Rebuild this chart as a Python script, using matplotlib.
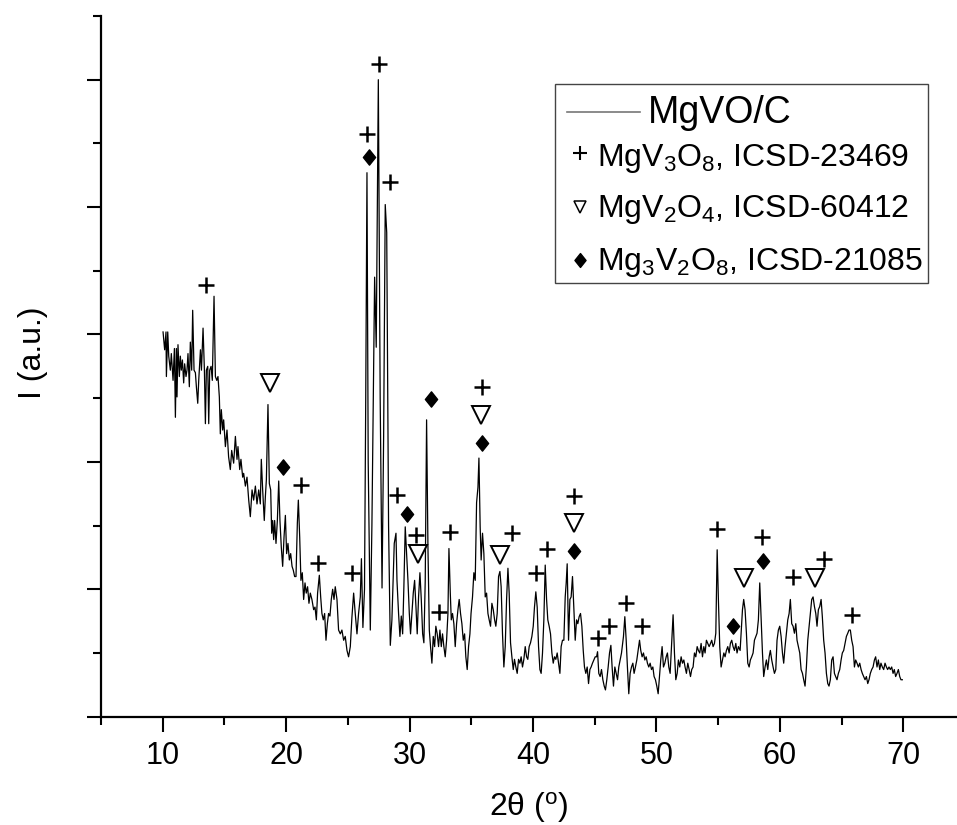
import numpy as np
import matplotlib
matplotlib.use("Agg")
import matplotlib.pyplot as plt
from matplotlib.path import Path
from matplotlib.patches import Rectangle

plt.rcParams['font.family'] = ['Liberation Sans', 'DejaVu Sans']
plt.rcParams['mathtext.fontset'] = 'custom'
plt.rcParams['mathtext.rm'] = 'Liberation Sans'
plt.rcParams['mathtext.it'] = 'Liberation Sans:italic'

# patron XRD de MgVO/C (2theta en grados, intensidad en u.a.)
two_theta = [
    10.03, 10.16, 10.27, 10.30, 10.41, 10.49, 10.62, 10.70, 10.84, 10.95, 11.03, 11.11, 11.16, 11.24,
    11.35, 11.43, 11.51, 11.60, 11.70, 11.78, 11.89, 11.97, 12.05, 12.16, 12.24, 12.35, 12.43, 12.54,
    12.65, 12.73, 12.84, 12.92, 13.06, 13.14, 13.27, 13.38, 13.46, 13.54, 13.65, 13.73, 13.81, 13.92,
    14.02, 14.16, 14.27, 14.38, 14.48, 14.59, 14.67, 14.75, 14.86, 14.94, 15.08, 15.21, 15.34, 15.48,
    15.59, 15.75, 15.89, 16.02, 16.10, 16.24, 16.34, 16.48, 16.56, 16.70, 16.83, 16.97, 17.10, 17.24,
    17.37, 17.51, 17.64, 17.78, 17.91,
    17.99, 18.10, 18.23, 18.32, 18.40, 18.53, 18.64, 18.75, 18.83, 18.91, 18.99, 19.07, 19.18, 19.29,
    19.40, 19.50, 19.61, 19.72, 19.83, 19.94, 20.04, 20.15, 20.26, 20.37, 20.48, 20.58, 20.69, 20.80,
    20.91, 20.99, 21.10, 21.20, 21.31, 21.42, 21.53, 21.63, 21.74, 21.85, 21.96, 22.09, 22.23, 22.34,
    22.45, 22.55, 22.69, 22.80, 22.90, 23.01, 23.12, 23.23, 23.34, 23.44, 23.55, 23.66, 23.77, 23.88,
    23.98, 24.12, 24.25, 24.39, 24.52, 24.66, 24.79, 24.93, 25.06, 25.20, 25.33, 25.47, 25.60, 25.74,
    25.87, 26.01, 26.10, 26.22, 26.35, 26.45, 26.55, 26.65, 26.82, 26.95, 27.17, 27.30, 27.47, 27.62,
    27.77, 27.90, 28.03, 28.15, 28.30, 28.44, 28.57, 28.76,
    28.90, 28.98, 29.11, 29.22, 29.33, 29.44, 29.54, 29.65, 29.76, 29.87, 29.98, 30.08, 30.19, 30.30,
    30.41, 30.52, 30.62, 30.73, 30.84, 30.95, 31.06, 31.16, 31.27, 31.38, 31.49, 31.60, 31.70, 31.81,
    31.92, 32.03, 32.13, 32.24, 32.35, 32.46, 32.57, 32.67, 32.78, 32.89, 33.00, 33.11, 33.19, 33.30,
    33.38, 33.48, 33.59, 33.70, 33.81, 33.92, 34.02, 34.13, 34.24, 34.35, 34.46, 34.56, 34.67, 34.78,
    34.89, 34.98, 35.10, 35.21, 35.32, 35.43, 35.54, 35.62, 35.72, 35.80, 35.91, 36.02, 36.13, 36.24,
    36.35, 36.45, 36.56, 36.67, 36.78, 36.89, 36.99, 37.10, 37.21, 37.32, 37.42, 37.53, 37.64, 37.75,
    37.86, 37.97, 38.07, 38.18, 38.29, 38.40, 38.50, 38.61, 38.72, 38.83, 38.94, 39.04, 39.15, 39.26,
    39.37, 39.48, 39.58, 39.69, 39.80, 39.91, 40.02, 40.12, 40.23, 40.34, 40.45, 40.56, 40.66, 40.77,
    40.88, 40.99, 41.10, 41.20, 41.31, 41.42, 41.53, 41.64, 41.74, 41.85, 41.96, 42.07,
    42.18, 42.28, 42.39, 42.50, 42.61, 42.69, 42.77, 42.88, 42.99, 43.09, 43.20, 43.31, 43.42, 43.53,
    43.63, 43.74, 43.85, 43.96, 44.07, 44.17, 44.28, 44.39, 44.50, 44.61, 44.71, 44.82, 44.93, 45.04,
    45.15, 45.23, 45.33, 45.44, 45.55, 45.66, 45.77, 45.87, 45.98, 46.09, 46.20, 46.31, 46.41, 46.52,
    46.63, 46.74, 46.85, 46.95, 47.06, 47.17, 47.33, 47.44, 47.55, 47.65, 47.76, 47.87, 47.98, 48.09,
    48.19, 48.30, 48.41, 48.52, 48.63, 48.73, 48.84, 48.95, 49.06, 49.17, 49.27, 49.38, 49.49, 49.60,
    49.71, 49.81, 49.92, 50.03, 50.14, 50.25, 50.35, 50.46, 50.57, 50.68, 50.79, 50.89, 51.00, 51.11,
    51.22, 51.35, 51.46, 51.57, 51.68, 51.78, 51.89, 52.00, 52.11, 52.22, 52.32, 52.43, 52.54, 52.65,
    52.76, 52.86, 52.97, 53.08, 53.19, 53.30, 53.40, 53.51, 53.62, 53.73, 53.84, 53.94, 54.05, 54.16,
    54.27, 54.38, 54.48, 54.59, 54.70, 54.81, 54.92, 55.02, 55.13, 55.24, 55.35, 55.46, 55.56, 55.67,
    55.78, 55.89, 55.99, 56.10, 56.21, 56.32, 56.43, 56.53, 56.64, 56.78,
    56.86, 56.97, 57.07, 57.18, 57.29, 57.40, 57.51, 57.61, 57.72, 57.83, 57.94, 58.05, 58.15, 58.26,
    58.37, 58.48, 58.59, 58.69, 58.80, 58.91, 59.02, 59.13, 59.23, 59.34, 59.45, 59.56, 59.67, 59.77,
    59.88, 59.99, 60.10, 60.21, 60.31, 60.42, 60.53, 60.64, 60.75, 60.85, 60.96, 61.07, 61.18, 61.29,
    61.39, 61.50, 61.61, 61.72, 61.83, 61.93, 62.04, 62.15, 62.26, 62.37, 62.47, 62.58, 62.69, 62.80,
    62.91, 63.01, 63.12, 63.23, 63.34, 63.44, 63.55, 63.66, 63.77, 63.88, 63.98, 64.09, 64.20, 64.31,
    64.42, 64.52, 64.63, 64.74, 64.85, 64.96, 65.06, 65.17, 65.28, 65.39, 65.50, 65.60, 65.71, 65.82,
    65.93, 66.04, 66.14, 66.25, 66.36, 66.47, 66.58, 66.68, 66.79, 66.90, 67.01, 67.12, 67.22, 67.33,
    67.44, 67.55, 67.66, 67.76, 67.87, 67.98, 68.09, 68.19, 68.30, 68.41, 68.52, 68.63, 68.73, 68.84,
    68.95, 69.06, 69.17, 69.27, 69.38, 69.49, 69.60, 69.71, 69.81, 69.92,
]
intensity = [
    3.02, 2.88, 3.02, 2.67, 3.02, 2.83, 2.72, 2.85, 2.64, 2.89, 2.35, 2.89, 2.51, 2.92,
    2.67, 2.83, 2.72, 2.80, 2.62, 2.77, 2.67, 2.72, 2.85, 2.59, 2.94, 2.72, 3.19, 2.72,
    2.70, 2.59, 2.46, 2.64, 2.88, 2.72, 3.05, 2.72, 2.30, 2.72, 2.75, 2.30, 2.72, 2.75,
    2.64, 3.30, 2.67, 2.64, 2.67, 2.51, 2.22, 2.41, 2.25, 2.33, 2.12, 2.25, 2.04, 1.94,
    2.09, 1.99, 2.20, 2.02, 2.12, 1.94, 2.02, 1.88, 1.91, 1.81, 1.88, 1.70, 1.57, 1.78,
    1.70, 1.81, 1.67, 1.78, 1.67,
    2.02, 1.78, 1.54, 1.73, 1.86, 2.45, 1.83, 1.78, 1.44, 1.54, 1.39, 1.54, 1.36, 1.54,
    1.85, 1.54, 1.33, 1.18, 1.41, 1.58, 1.28, 1.36, 1.23, 1.28, 1.18, 1.15, 1.10, 1.10,
    1.52, 1.70, 1.41, 1.07, 1.13, 0.92, 1.05, 0.97, 1.02, 0.89, 0.97, 0.92, 0.84, 0.86,
    0.76, 0.97, 1.11, 0.94, 0.81, 0.76, 0.81, 0.60, 0.73, 0.81, 0.79, 0.92, 1.00, 0.92,
    1.02, 0.92, 0.68, 0.65, 0.68, 0.60, 0.63, 0.52, 0.47, 0.55, 0.78, 0.97, 0.81, 0.65,
    0.81, 0.94, 1.24, 0.70, 1.00, 2.50, 4.27, 2.00, 0.68, 1.50, 3.45, 2.90, 5.00, 2.50,
    1.01, 2.20, 4.02, 3.80, 1.50, 0.56, 0.76, 1.36,
    1.44, 1.07, 0.81, 0.63, 0.79, 0.65, 1.02, 1.49, 1.28, 1.07, 0.81, 0.65, 0.81, 0.97,
    1.07, 0.86, 0.65, 0.94, 1.13, 0.92, 0.65, 0.58, 1.07, 2.33, 1.33, 0.68, 0.55, 0.42,
    0.63, 0.55, 0.71, 0.65, 0.55, 0.68, 0.55, 0.65, 0.55, 0.47, 0.60, 0.81, 1.32, 0.97,
    0.76, 0.81, 0.73, 0.55, 0.73, 0.84, 0.92, 0.81, 0.73, 0.60, 0.65, 0.47, 0.37, 0.55,
    0.65, 0.81, 0.94, 1.13, 1.07, 1.68, 1.80, 2.03, 1.49, 1.23, 1.44, 1.28, 0.94, 0.97,
    0.81, 0.76, 0.71, 0.89, 0.84, 0.76, 0.71, 0.81, 1.10, 1.14, 1.02, 0.65, 0.39, 0.55,
    0.92, 1.165, 0.97, 0.58, 0.47, 0.37, 0.45, 0.39, 0.34, 0.45, 0.42, 0.47, 0.39, 0.45,
    0.55, 0.47, 0.45, 0.55, 0.58, 0.63, 0.71, 0.86, 0.98, 0.86, 0.55, 0.37, 0.34, 0.50,
    0.76, 1.19, 0.92, 0.76, 0.71, 0.65, 0.50, 0.42, 0.47, 0.45, 0.50, 0.42,
    0.34, 0.55, 0.60, 0.60, 0.94, 1.05, 1.20, 0.60, 0.92, 0.94, 1.10, 0.84, 0.60, 0.76,
    0.73, 0.785, 0.81, 0.71, 0.52, 0.39, 0.34, 0.39, 0.26, 0.37, 0.39, 0.42, 0.445, 0.47,
    0.47, 0.51, 0.34, 0.315, 0.37, 0.29, 0.24, 0.21, 0.29, 0.39, 0.50, 0.56, 0.39, 0.24,
    0.39, 0.34, 0.29, 0.39, 0.445, 0.50, 0.63, 0.785, 0.60, 0.39, 0.18, 0.34, 0.39, 0.42,
    0.34, 0.39, 0.445, 0.52, 0.60, 0.52, 0.47, 0.50, 0.445, 0.47, 0.42, 0.39, 0.42, 0.37,
    0.39, 0.315, 0.29, 0.24, 0.18, 0.315, 0.445, 0.55, 0.39, 0.42, 0.47, 0.50, 0.39, 0.34,
    0.55, 0.80, 0.50, 0.29, 0.34, 0.445, 0.39, 0.47, 0.42, 0.445, 0.39, 0.34, 0.42, 0.37,
    0.315, 0.37, 0.39, 0.50, 0.47, 0.55, 0.52, 0.50, 0.575, 0.47, 0.55, 0.50, 0.60, 0.575,
    0.55, 0.575, 0.60, 0.55, 0.575, 0.655, 1.31, 0.92, 0.55, 0.39, 0.445, 0.50, 0.47, 0.52,
    0.55, 0.50, 0.575, 0.60, 0.55, 0.52, 0.575, 0.50, 0.55, 0.52,
    0.655, 0.84, 0.92, 0.84, 0.655, 0.42, 0.39, 0.445, 0.47, 0.50, 0.60, 0.63, 0.655, 0.76,
    1.05, 0.785, 0.50, 0.315, 0.39, 0.445, 0.37, 0.47, 0.52, 0.445, 0.39, 0.34, 0.37, 0.60,
    0.68, 0.71, 0.63, 0.50, 0.42, 0.55, 0.655, 0.76, 0.81, 0.92, 0.73, 0.71, 0.655, 0.73,
    0.60, 0.55, 0.50, 0.37, 0.34, 0.29, 0.24, 0.39, 0.60, 0.71, 0.81, 0.92, 0.94, 0.865,
    0.81, 0.71, 0.84, 0.865, 0.92, 0.785, 0.60, 0.50, 0.34, 0.26, 0.24, 0.29, 0.445, 0.47,
    0.34, 0.315, 0.29, 0.34, 0.37, 0.445, 0.50, 0.52, 0.575, 0.63, 0.655, 0.68, 0.68, 0.60,
    0.55, 0.39, 0.445, 0.42, 0.39, 0.42, 0.37, 0.34, 0.315, 0.29, 0.315, 0.26, 0.29, 0.34,
    0.37, 0.39, 0.445, 0.47, 0.39, 0.445, 0.37, 0.42, 0.39, 0.37, 0.42, 0.39, 0.37, 0.39,
    0.37, 0.39, 0.34, 0.37, 0.315, 0.34, 0.37, 0.315, 0.29, 0.29,
]

# posiciones de los simbolos de cada fase (2theta, altura)
mgv3o8_x = [13.47, 21.23, 22.58, 25.34, 26.55, 27.49, 28.38, 28.98, 30.54, 32.35, 33.24, 35.86, 38.29,
            40.26, 41.17, 43.34, 45.25, 46.19, 47.55, 48.82, 54.89, 58.53, 61.09, 63.58, 65.87]
mgv3o8_y = [3.39, 1.82, 1.21, 1.13, 4.57, 5.12, 4.20, 1.74, 1.43, 0.82, 1.45, 2.59, 1.44,
            1.13, 1.32, 1.73, 0.62, 0.71, 0.89, 0.71, 1.47, 1.41, 1.10, 1.24, 0.80]
mgv2o4_x = [18.72, 30.65, 35.81, 37.29, 43.36, 57.10, 62.85]
mgv2o4_y = [2.62, 1.28, 2.37, 1.27, 1.52, 1.09, 1.09]
mg3v2o8_x = [19.72, 26.68, 29.79, 31.76, 35.86, 43.36, 56.24, 58.65]
mg3v2o8_y = [1.96, 4.39, 1.59, 2.49, 2.15, 1.30, 0.71, 1.22]

etiquetas = ['MgVO/C',
             'MgV$_3$O$_8$, ICSD-23469',
             'MgV$_2$O$_4$, ICSD-60412',
             'Mg$_3$V$_2$O$_8$, ICSD-21085']

rombo = Path([(0, 1), (0.8, 0), (0, -1), (-0.8, 0), (0, 1)],
             [Path.MOVETO, Path.LINETO, Path.LINETO, Path.LINETO, Path.CLOSEPOLY])

fig = plt.figure(figsize=(9.57, 8.25), dpi=100)
ax = fig.add_axes([0.1055, 0.1313, 0.8945, 0.8493])

ax.plot(two_theta, intensity, color='black', lw=0.9)
ax.plot(mgv3o8_x, mgv3o8_y, ls='none', marker='+', ms=12, mew=1.8, color='black')
ax.plot(mgv2o4_x, mgv2o4_y, ls='none', marker='v', ms=13, mew=1.4, mfc='white', mec='black')
ax.plot(mg3v2o8_x, mg3v2o8_y, ls='none', marker=rombo, ms=11, color='black')

ax.set_xlim(5, 74.35)
ax.set_ylim(0, 5.5)
ax.set_xticks(np.arange(10, 71, 10))
ax.set_xticks(np.arange(5, 75, 10), minor=True)
ax.set_yticks(np.arange(0, 6, 1))
ax.set_yticks(np.arange(0.5, 6, 1), minor=True)
ax.set_yticklabels([])
ax.tick_params(axis='x', which='major', length=10.5, width=1.5, labelsize=22, pad=7)
ax.tick_params(axis='x', which='minor', length=5.5, width=1.5)
ax.tick_params(axis='y', which='major', length=10, width=1.5)
ax.tick_params(axis='y', which='minor', length=5.5, width=1.5)
for s in ['top', 'right']:
    ax.spines[s].set_visible(False)
for s in ['left', 'bottom']:
    ax.spines[s].set_linewidth(1.6)

ax.set_xlabel('2θ ($^{\\mathrm{o}}$)', fontsize=23)
ax.set_ylabel('I (a.u.)', fontsize=23)
ax.xaxis.set_label_coords(0.5, -0.1046)
ax.yaxis.set_label_coords(-0.062, 0.519)

# leyenda dibujada a mano (estilo Origin)
tr = ax.transAxes
ax.add_patch(Rectangle((0.530, 0.619), 0.436, 0.284, transform=tr, fill=False,
                       ec='#444444', lw=1.0, zorder=5))
ax.plot([0.544, 0.630], [0.863, 0.863], transform=tr, color='#777777', lw=1.2)
ax.text(0.639, 0.847, etiquetas[0], transform=tr, fontsize=27, va='baseline')
ax.plot([0.5596], [0.805], transform=tr, marker='+', ms=10, mew=1.5, color='black')
ax.plot([0.5596], [0.728], transform=tr, marker='v', ms=9, mew=1.1, mfc='white', mec='black')
ax.plot([0.5596], [0.652], transform=tr, marker=rombo, ms=10, color='black')
ax.text(0.580, 0.786, etiquetas[1], transform=tr, fontsize=23, va='baseline')
ax.text(0.580, 0.7136, etiquetas[2], transform=tr, fontsize=23, va='baseline')
ax.text(0.580, 0.6375, etiquetas[3], transform=tr, fontsize=23, va='baseline')

fig.savefig('out.png', dpi=100)
